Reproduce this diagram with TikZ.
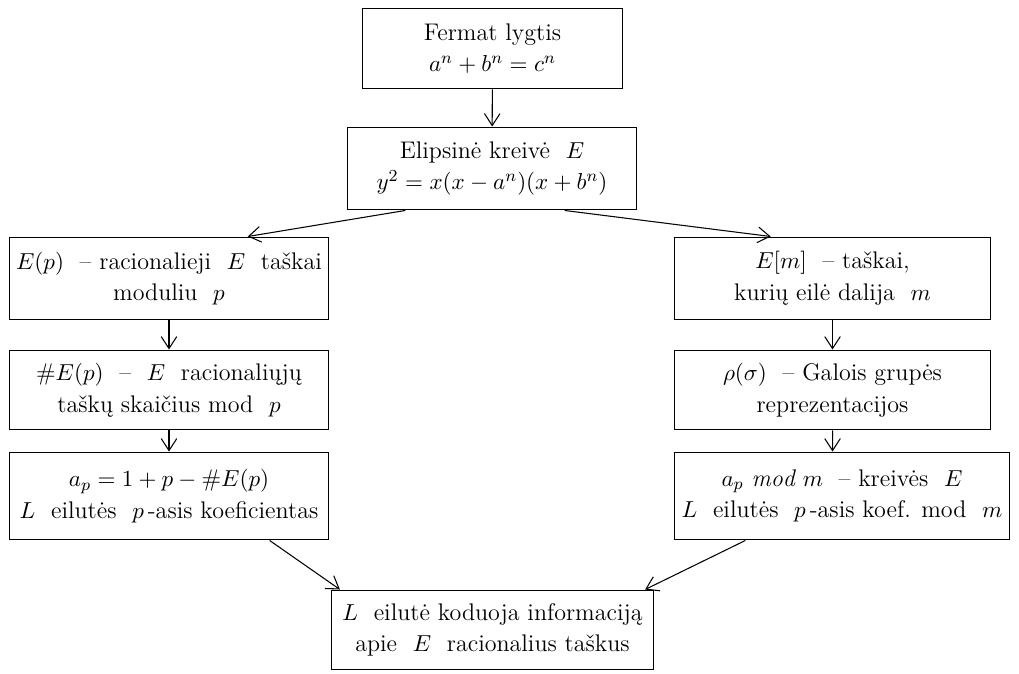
\documentclass[tikz,border=0pt]{standalone}
\usepackage{fontspec}
\usepackage{amsmath,amssymb}
\usetikzlibrary{arrows.meta}

% one pixel of the layout grid
\def\pu{0.4724pt}

\begin{document}
\begin{tikzpicture}[
    x=0.01667cm, y=-0.01667cm,
    font=\fontsize{11.4}{15}\selectfont,
    box/.style={draw, line width=0.6pt, align=center, inner sep=0pt},
    arr/.style={-{Straight Barb[length=2mm, width=2.6mm]}, line width=0.5pt},
]
\useasboundingbox (0,0) rectangle (1019,674);

\node[box, minimum width=261*\pu, minimum height=81*\pu] (fermat) at (492.5,48.5)
    {Fermat lygtis\\ $a^n+b^n=c^n$};
\node[box, minimum width=290*\pu, minimum height=83*\pu] (curve) at (492,168.5)
    {Elipsinė kreivė\ \ $E$\\ $y^2=x(x-a^n)(x+b^n)$};

\node[box, minimum width=320*\pu, minimum height=83*\pu] (ep) at (169,278.5)
    {$E(p)$\ \ -- racionalieji\ \ $E$\ \ taškai\\ moduliu\ \ $p$};
\node[box, minimum width=320*\pu, minimum height=80*\pu] (count) at (169,390)
    {$\#E(p)$\ \ --\ \ $E$\ \ racionaliųjų\\ taškų skaičius mod\ \ $p$};
\node[box, minimum width=320*\pu, minimum height=88*\pu] (ap) at (169,496)
    {$a_p=1+p-\#E(p)$\\ $L$\ \ eilutės\ \ $p$\,-asis koeficientas};

\node[box, minimum width=317*\pu, minimum height=83*\pu] (em) at (832.5,278.5)
    {$E[m]$\ \ -- taškai,\\ kurių eilė dalija\ \ $m$};
\node[box, minimum width=317*\pu, minimum height=80*\pu] (rho) at (832.5,390)
    {$\rho(\sigma)$\ \ -- Galois grupės\\ reprezentacijos};
\node[box, minimum width=336*\pu, minimum height=88*\pu] (apm) at (842,496)
    {$a_p\ \mathit{mod}\ m$\ \ -- kreivės\ \ $E$\\ $L$\ \ eilutės\ \ $p$\,-asis koef. mod\ \ $m$};

\node[box, minimum width=323*\pu, minimum height=80*\pu] (lser) at (492.5,630)
    {$L$\ \ eilutė koduoja informaciją\\ apie\ \ $E$\ \ racionalius taškus};

\draw[arr] (fermat) -- (curve);
\draw[arr] ([xshift=-87*\pu]curve.south) -- ([xshift=79*\pu]ep.north);
\draw[arr] ([xshift=73*\pu]curve.south) -- ([xshift=-62*\pu]em.north);
\draw[arr] (ep) -- (count);
\draw[arr] (count) -- (ap);
\draw[arr] (em) -- (rho);
\draw[arr] (rho) -- ([xshift=-9.5*\pu]apm.north);
\draw[arr] ([xshift=101*\pu]ap.south) -- ([xshift=9*\pu]lser.north west);
\draw[arr] ([xshift=-97*\pu]apm.south) -- ([xshift=-9*\pu]lser.north east);
\end{tikzpicture}
\end{document}
